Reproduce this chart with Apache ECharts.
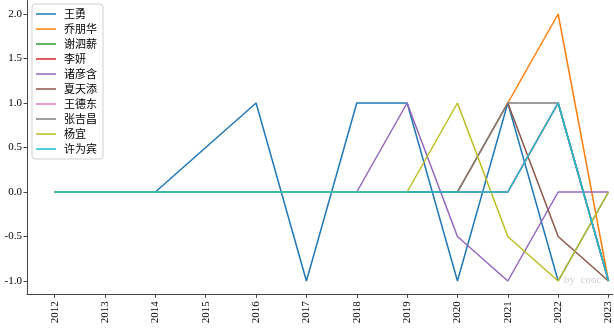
<!DOCTYPE html>
<html><head><meta charset="utf-8">
<script src="https://cdn.jsdelivr.net/npm/echarts@6/dist/echarts.min.js"></script>
<style>html,body{margin:0;padding:0;background:#fff}#c{width:614px;height:328px}</style>
</head><body><div id="c"></div>
<script>
const years = [2012,2013,2014,2015,2016,2017,2018,2019,2020,2021,2022,2023];
const names = ['王勇','乔朋华','谢泗薪','李妍','诸彦含','夏天添','王德东','张吉昌','杨宜','许为宾'];
const wangYong   = [0,0,0,0.5,1,-1,1,1,-1,1,-1,0];
const qiaoPengHua= [0,0,0,0,0,0,0,0,0,1,2,-1];
const xieSiXin   = [0,0,0,0,0,0,0,0,0,0,1,-1];
const liYan      = [0,0,0,0,0,0,0,0,0,0,1,-1];
const zhuYanHan  = [0,0,0,0,0,0,0,1,-0.5,-1,0,0];
const xiaTianTian= [0,0,0,0,0,0,0,0,0,1,-0.5,-1];
const wangDeDong = [0,0,0,0,0,0,0,0,0,0,1,-1];
const zhangJiChang=[0,0,0,0,0,0,0,0,0,1,1,-1];
const yangYi     = [0,0,0,0,0,0,0,0,1,-0.5,-1,0];
const xuWeiBin    = [0,0,0,0,0,0,0,0,0,0,1,-1];
const yTicks = [-1,-0.5,0,0.5,1,1.5,2];
const allData = [wangYong,qiaoPengHua,xieSiXin,liYan,zhuYanHan,xiaTianTian,wangDeDong,zhangJiChang,yangYi,xuWeiBin];
const colors = ['#1f77b4','#ff7f0e','#2ca02c','#d62728','#9467bd','#8c564b','#e377c2','#7f7f7f','#bcbd22','#17becf'];

const chart = echarts.init(document.getElementById('c'), null, {renderer:'canvas'});
const serif = '"Liberation Serif","DejaVu Serif",serif';
chart.setOption({
  animation:false,
  color: colors,
  grid:{left:27, right:0, top:0.65, bottom:33.65, containLabel:false},
  xAxis:{
    type:'value', min:2011.45, max:2023.085,
    axisLine:{show:true, onZero:false, lineStyle:{color:'#444', width:1}},
    axisTick:{show:true, length:3.5, customValues:years, lineStyle:{color:'#444'}},
    axisLabel:{customValues:years, rotate:90, margin:7, fontFamily:serif, fontSize:11, color:'#000', formatter:v=>String(v)},
    splitLine:{show:false}
  },
  yAxis:{
    type:'value', min:-1.15, max:2.15,
    axisLine:{show:true, onZero:false, lineStyle:{color:'#444', width:1}},
    axisTick:{show:true, length:3.5, customValues:yTicks, lineStyle:{color:'#444'}},
    axisLabel:{customValues:yTicks, margin:5, fontFamily:serif, fontSize:11, color:'#000', formatter:v=>v.toFixed(1)},
    splitLine:{show:false}
  },
  legend:{
    orient:'vertical', left:32, top:4,
    icon:'rect', itemWidth:20, itemHeight:1.5, itemGap:3,
    padding:[4,6,4,4],
    backgroundColor:'#fff', borderColor:'#d0d0d0', borderWidth:1, borderRadius:3,
    textStyle:{fontFamily:'"Noto Sans CJK SC",sans-serif', fontSize:11, lineHeight:12, color:'#000', padding:[0,0,0,3]},
    data: names
  },
  graphic:[{type:'text', left:564, top:275, style:{text:'by  cooc', fill:'#d0d0d0', font:'11px "Liberation Serif",serif'}, z:0}],
  series: names.map((n,i)=>({
    name:n, type:'line', symbol:'none',
    data: years.map((y,j)=>[y, allData[i][j]]),
    lineStyle:{width:1.5, color:colors[i]},
    itemStyle:{color:colors[i]}
  }))
});
</script></body></html>
